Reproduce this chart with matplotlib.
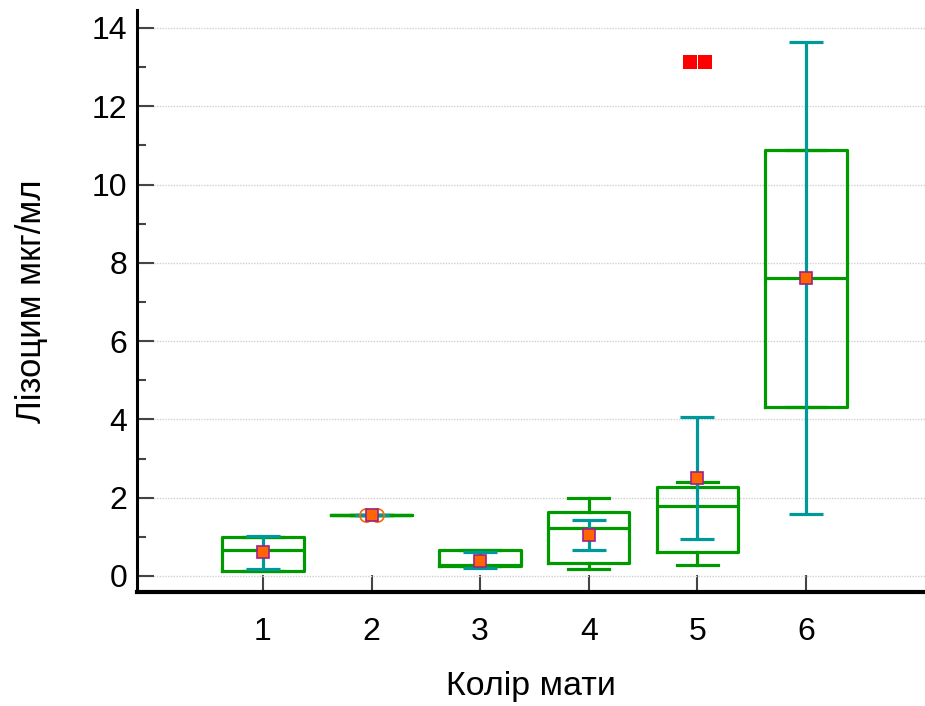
import numpy as np
import matplotlib
matplotlib.use('Agg')
from matplotlib import pyplot as plt

plt.rcParams['font.family'] = ['Liberation Sans', 'DejaVu Sans']

# values
groups = [1, 2, 3, 4, 5, 6]
q1 = [0.13, 1.55, 0.26, 0.34, 0.62, 4.32]
med = [0.67, 1.55, 0.28, 1.22, 1.78, 7.61]
q3 = [1.00, 1.55, 0.66, 1.64, 2.27, 10.88]
whislo = [0.13, 1.55, 0.26, 0.17, 0.29, 4.32]
whishi = [1.00, 1.55, 0.66, 1.98, 2.41, 10.88]
means = [0.61, 1.55, 0.38, 1.05, 2.51, 7.61]
ci_lo = [0.17, 1.55, 0.19, 0.66, 0.94, 1.57]
ci_hi = [1.03, 1.55, 0.60, 1.43, 4.05, 13.64]
outliers5 = [13.13, 13.13]
points2 = [1.55, 1.55]

green = '#009900'
teal = '#009999'

fig = plt.figure(figsize=(9.25, 7.06), dpi=100)
ax = fig.add_axes([0.148, 0.1615, 0.852, 0.8244])

stats = []
for i in range(len(groups)):
	stats.append({'med': med[i], 'q1': q1[i], 'q3': q3[i],
		'whislo': whislo[i], 'whishi': whishi[i], 'fliers': []})

lp = dict(color=green, linewidth=2.3)
ax.bxp(stats, positions=groups, widths=0.75, capwidths=0.375,
	boxprops=lp, whiskerprops=lp, capprops=lp, medianprops=lp,
	showfliers=False, manage_ticks=False, zorder=2)

# spread of the mean (teal)
means_a = np.array(means)
yerr = [means_a - np.array(ci_lo), np.array(ci_hi) - means_a]
ax.errorbar(groups, means, yerr=yerr, fmt='none', ecolor=teal,
	elinewidth=2.3, capsize=12.5, capthick=2.3, zorder=3)

# individual points of group 2
ax.plot([2 - 0.055, 2 + 0.055], points2, 'o', mfc='none', mec='#ff6600',
	ms=9.5, mew=1.2, zorder=3)

# outside values of group 5
ax.plot([5 - 0.066, 5 + 0.066], outliers5, 's', color='#ff0000',
	ms=9.5, mew=0, zorder=4)

# means
ax.plot(groups, means, 's', mfc='#ff6600', mec='#a0208a', ms=8.5, mew=1.2,
	zorder=5)

ax.set_xlim(-0.16, 7.096)
ax.set_ylim(-0.41, 14.46)
ax.set_xticks(groups)
ax.set_yticks(np.arange(0, 15, 2))
ax.set_yticks(np.arange(1, 15, 2), minor=True)
ax.yaxis.grid(True, which='major', color='#d0d0d0', linestyle=(0, (1, 1)),
	linewidth=1.0)
ax.set_axisbelow(True)

for s in ['top', 'right']:
	ax.spines[s].set_visible(False)
ax.spines['left'].set_linewidth(2.2)
ax.spines['bottom'].set_linewidth(3)

ax.tick_params(axis='both', which='major', direction='in', length=12,
	width=1.5, color='#444444', labelsize=23, pad=7)
ax.tick_params(axis='y', which='minor', direction='in', length=6.5,
	width=1.5, color='#444444')
ax.tick_params(axis='x', pad=18)

ax.set_xlabel('Колір мати', fontsize=24.5, labelpad=17)
ax.set_ylabel('Лізоцим мкг/мл', fontsize=25, labelpad=31)

plt.savefig('out.png', dpi=100)
